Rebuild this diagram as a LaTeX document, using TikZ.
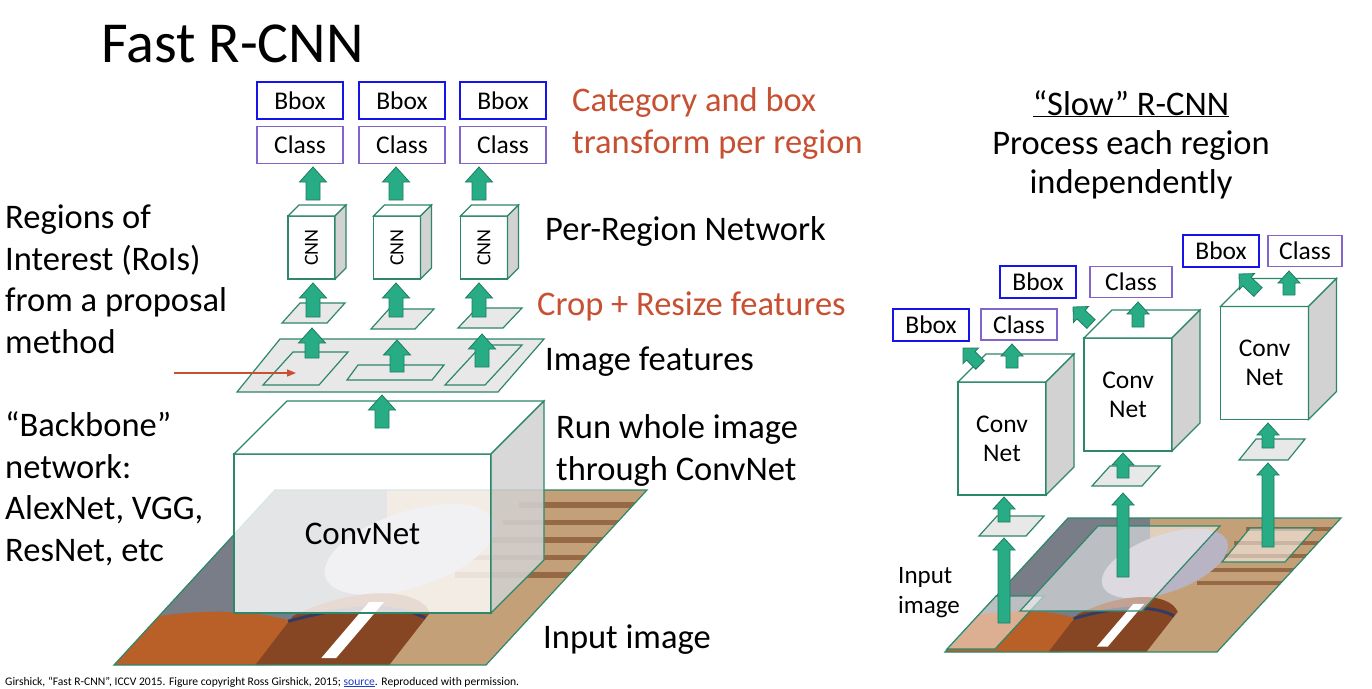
\documentclass[tikz,border=0pt]{standalone}
\usepackage{fontspec}
\setmainfont{Carlito}
\usepackage{graphicx}
\usetikzlibrary{calc,arrows.meta}

\definecolor{netgreen}{RGB}{45,135,105}
\definecolor{arrowgreen}{RGB}{40,172,134}
\definecolor{arrowdark}{RGB}{30,125,95}
\definecolor{bboxblue}{RGB}{20,20,235}
\definecolor{classpurple}{RGB}{130,100,205}
\definecolor{sidegray}{RGB}{210,210,210}
\definecolor{featgray}{RGB}{232,232,232}
\definecolor{labelred}{RGB}{200,80,50}
\definecolor{linkblue}{RGB}{30,60,200}
\definecolor{woodtan}{RGB}{196,160,120}
\definecolor{wooddark}{RGB}{150,105,70}
\definecolor{gategray}{RGB}{120,125,135}
\definecolor{shirtblue}{RGB}{185,180,195}
\definecolor{horsebody}{RGB}{185,95,40}
\definecolor{horsehead}{RGB}{135,70,35}
\definecolor{harness}{RGB}{50,60,100}

\tikzset{
  bboxnode/.style={draw=bboxblue, line width=1.6pt, inner sep=0pt, outer sep=0pt,
    font=\fontsize{25.5}{25.5}\selectfont},
  classnode/.style={draw=classpurple, line width=1.6pt, inner sep=0pt, outer sep=0pt,
    font=\fontsize{25.5}{25.5}\selectfont},
  cubefront/.style={draw=netgreen, line width=1.2pt, fill=white, inner sep=0pt, outer sep=0pt},
  topface/.style={draw=netgreen, line width=1.2pt, fill=white},
  sideface/.style={draw=netgreen, line width=1.2pt, fill=sidegray},
  planeface/.style={draw=netgreen, line width=1.2pt, fill=featgray},
  regionface/.style={draw=netgreen, line width=1.2pt, fill=white, fill opacity=0.5},
  blockarrow/.style={draw=arrowdark, fill=arrowgreen, line width=0.8pt},
  sidetext/.style={anchor=base west, align=left, inner sep=0pt,
    font=\fontsize{34.5}{41.5}\selectfont},
  redtext/.style={sidetext, text=labelred}
}

% block arrow from #1 to #2: shaft half width, head half width, head length
\newcommand{\blockarrow}[5]{%
  \coordinate (hb) at ($(#2)!#5!(#1)$);
  \draw[blockarrow] ($(#1)!#3!90:(#2)$) -- ($(hb)!#3!90:(#2)$) -- ($(hb)!#4!90:(#2)$) -- (#2)
    -- ($(hb)!#4!-90:(#2)$) -- ($(hb)!#3!-90:(#2)$) -- ($(#1)!#3!-90:(#2)$) -- cycle;
}
\newcommand{\bigarrow}[2]{\blockarrow{#1}{#2}{7pt}{13.5pt}{15pt}}
\newcommand{\smallarrow}[2]{\blockarrow{#1}{#2}{6pt}{11pt}{12pt}}

% top and side faces of a box whose front is node #2
\newcommand{\cubefaces}[3][]{%
  \draw[topface] (#2.north west) -- ++(#3,-#3) -- ($(#2.north east)+(#3,-#3)$) -- (#2.north east) -- cycle;
  \draw[sideface,#1] (#2.north east) -- ++(#3,-#3) -- ($(#2.south east)+(#3,-#3)$) -- (#2.south east) -- cycle;
}

% rough stand-in for the input photo, in the unit square
\newcommand{\horsephoto}{%
  \fill[woodtan] (0,0) rectangle (1,1);
  \foreach \s in {0.50,0.60,...,0.95} \fill[wooddark] (0.7,\s) rectangle (1,\s+0.03);
  \fill[gategray] (0,0.25) rectangle (0.3,1);
  \fill[shirtblue] (0.51,0.66) ellipse [x radius=0.2, y radius=0.26];
  \fill[horsebody] (0,0) -- (0,0.28) .. controls (0.15,0.33) and (0.3,0.3) .. (0.42,0.22) -- (0.42,0) -- cycle;
  \fill[horsehead] (0.38,0) -- (0.36,0.28) .. controls (0.45,0.45) and (0.62,0.45) .. (0.72,0.3) -- (0.74,0) -- cycle;
  \draw[harness, line width=3pt] (0.36,0.25) .. controls (0.5,0.36) and (0.62,0.34) .. (0.72,0.27);
  \fill[white] (0.54,0.04) -- (0.53,0.36) -- (0.57,0.36) -- (0.58,0.04) -- cycle;
}

\begin{document}
\begin{tikzpicture}[x=1pt, y=-1pt]
  \useasboundingbox[fill=white] (0,0) rectangle (1372,688);

  % titles and side texts (multi-line nodes sit on their last baseline)
  \node[anchor=base west, inner sep=0pt, font=\fontsize{58}{60}\selectfont] (title) at (101,62) {Fast R-CNN};
  \node[sidetext] (roitext) at (5,353) {Regions of\\Interest (RoIs)\\from a proposal\\method};
  \node[sidetext] (backbonetext) at (5,561) {“Backbone”\\network:\\AlexNet, VGG,\\ResNet, etc};
  \node[redtext] (cattext) at (572,153) {Category and box\\transform per region};
  \node[sidetext] (pertext) at (545,240) {Per-Region Network};
  \node[redtext] (croptext) at (537,315) {Crop + Resize features};
  \node[sidetext] (feattext) at (545,370) {Image features};
  \node[sidetext] (runtext) at (556,480) {Run whole image\\through ConvNet};
  \node[sidetext] (inputtext) at (543,648) {Input image};
  \node[anchor=base, align=center, inner sep=0pt, font=\fontsize{34.5}{39}\selectfont] (slowtext)
    at (1131,193) {\underline{“Slow” R-CNN}\\Process each region\\independently};
  \node[anchor=base west, align=left, inner sep=0pt, font=\fontsize{25}{30}\selectfont] (rinputtext)
    at (898,613) {Input\\image};
  \node[anchor=base west, inner sep=0pt, font=\fontsize{11.6}{11.6}\selectfont] (footer) at (5,685)
    {Girshick, “Fast R-CNN”, ICCV 2015. Figure copyright Ross Girshick, 2015; \textcolor{linkblue}{\underline{source}}. Reproduced with permission.};

  % ---- Fast R-CNN ----
  \begin{scope}
    \clip (114,665) -- (486,665) -- (647,490) -- (275,490) -- cycle;
    \begin{scope}[shift={(114,665)}, x={(372pt,0pt)}, y={(161pt,175pt)}]
      \horsephoto
    \end{scope}
  \end{scope}
  \draw[netgreen, line width=1.2pt] (114,665) -- (486,665) -- (647,490) -- (275,490) -- cycle;

  \node[cubefront, fill opacity=0.8, text opacity=1, minimum width=257pt, minimum height=159pt,
    font=\fontsize{33}{33}\selectfont] (convnet) at (362.5,533.5) {ConvNet};
  \cubefaces[fill opacity=0.85]{convnet}{53}

  \coordinate (convout) at (382,428);
  \coordinate (featin) at (382,395);
  \bigarrow{convout}{featin}

  \draw[planeface] (237,392) -- (498,392) -- (544,339) -- (280,339) -- cycle;
  \draw[planeface] (263,385) -- (319,385) -- (348,352) -- (293,352) -- cycle;
  \draw[planeface] (347,380) -- (432,380) -- (444,365) -- (358,365) -- cycle;
  \draw[planeface] (445,385) -- (485,385) -- (522,345) -- (482,345) -- cycle;

  \coordinate (roitail) at (174,373);
  \coordinate (roitip) at (296,373);
  \draw[labelred, line width=1.5pt, -{Triangle[length=9pt,width=7pt]}] (roitail) -- (roitip);

  \foreach \i/\x/\fb/\ft in {1/312/358/328, 2/397/372/340, 3/482/367/334} {
    \coordinate (featout\i) at (\x,\fb);
    \coordinate (cropin\i) at (\x,\ft);
    \bigarrow{featout\i}{cropin\i}
  }

  \draw[planeface] (282,323) -- (327,323) -- (345,303) -- (300,303) -- cycle;
  \draw[planeface] (371,329) -- (415,329) -- (434,309) -- (389,309) -- cycle;
  \draw[planeface] (458,328) -- (503,328) -- (522,308) -- (477,308) -- cycle;

  \foreach \i/\x/\cx/\bx in {1/313/311.5/300, 2/396/397/402, 3/479/484/503} {
    \coordinate (cropout\i) at (\x,317);
    \coordinate (cnnin\i) at (\x,283);
    \bigarrow{cropout\i}{cnnin\i}
    \node[cubefront, minimum width=47pt, minimum height=63pt, font=\fontsize{20}{20}\selectfont]
      (cnn\i) at (\cx,247.5) {\rotatebox{90}{CNN}};
    \cubefaces{cnn\i}{11}
    \coordinate (cnnout\i) at (\x,200);
    \coordinate (clsin\i) at (\x,167);
    \bigarrow{cnnout\i}{clsin\i}
    \node[classnode, minimum width=86pt, minimum height=37pt] (cls\i) at (\bx,145) {Class};
    \node[bboxnode, minimum width=86pt, minimum height=37pt] (bbox\i) at (\bx,100.5) {Bbox};
  }

  % ---- slow R-CNN ----
  \begin{scope}
    \clip (945,652) -- (1217,652) -- (1341,518) -- (1068,518) -- cycle;
    \begin{scope}[shift={(945,652)}, x={(272pt,0pt)}, y={(123pt,134pt)}]
      \horsephoto
    \end{scope}
  \end{scope}
  \draw[netgreen, line width=1.2pt] (945,652) -- (1217,652) -- (1341,518) -- (1068,518) -- cycle;

  \draw[regionface] (947,649) -- (995,649) -- (1044,596) -- (996,596) -- cycle;
  \draw[regionface] (1020,611) -- (1142,611) -- (1220,526) -- (1098,526) -- cycle;
  \draw[regionface] (1222,562) -- (1285,562) -- (1315,528) -- (1250,528) -- cycle;

  \foreach \i/\x/\rb/\sb in {a/1004/623/538, b/1123/577/493, c/1268/547/463} {
    \coordinate (regout\i) at (\x,\rb);
    \coordinate (warpin\i) at (\x,\sb);
    \smallarrow{regout\i}{warpin\i}
  }

  \draw[planeface] (979,536) -- (1026,536) -- (1044,516) -- (997,516) -- cycle;
  \draw[planeface] (1092,486) -- (1142,486) -- (1160,466) -- (1110,466) -- cycle;
  \draw[planeface] (1239,460) -- (1288,460) -- (1305,439) -- (1256,439) -- cycle;

  \foreach \i/\x/\wb/\wt in {a/1004/522/497, b/1123/478/453, c/1268/448/423} {
    \coordinate (warpout\i) at (\x,\wb);
    \coordinate (netin\i) at (\x,\wt);
    \smallarrow{warpout\i}{netin\i}
  }

  \foreach \i/\cx/\cy in {a/1002/438.5, b/1128/394.5, c/1264.5/363} {
    \node[cubefront, minimum width=88pt, minimum height=113pt, align=center,
      font=\fontsize{25.5}{29}\selectfont] (net\i) at (\cx,\cy) {Conv\\Net};
    \cubefaces{net\i}{28}
  }

  \foreach \i/\cx/\cb/\cy/\bx/\by/\tx/\ty/\kx/\ky/\kw in
    {a/1012/368/344/980/365/963/348/1019/324.5/76,
     b/1138/327/302/1091/324/1073/307/1131/282/82,
     c/1289/295/271/1258/292/1239/274/1305/251/74} {
    \coordinate (clsout\i) at (\cx,\cb);
    \coordinate (rclsin\i) at (\cx,\cy);
    \smallarrow{clsout\i}{rclsin\i}
    \coordinate (bboxout\i) at (\bx,\by);
    \coordinate (rbboxin\i) at (\tx,\ty);
    \blockarrow{bboxout\i}{rbboxin\i}{6pt}{11pt}{11pt}
    \node[classnode, minimum width=\kw pt, minimum height=31pt] (rcls\i) at (\kx,\ky) {Class};
  }
  \node[bboxnode, minimum width=76pt, minimum height=32pt] (rbboxa) at (931,325) {Bbox};
  \node[bboxnode, minimum width=76pt, minimum height=32pt] (rbboxb) at (1038,282) {Bbox};
  \node[bboxnode, minimum width=76pt, minimum height=32pt] (rbboxc) at (1221,251) {Bbox};
\end{tikzpicture}
\end{document}
